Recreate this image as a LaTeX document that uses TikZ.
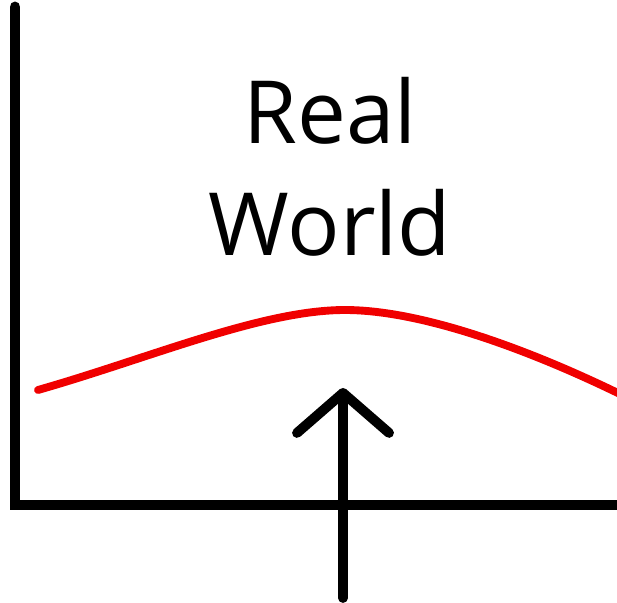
\documentclass[tikz,border=0pt]{standalone}
\usepackage{fontspec}
\setmainfont{Open Sans}
\usetikzlibrary{arrows.meta,positioning}
\definecolor{curveRed}{RGB}{240,0,0}
\definecolor{inkBlack}{RGB}{0,0,0}

\begin{document}
\begin{tikzpicture}[x=0.025cm,y=-0.025cm,
  axisline/.style={draw=inkBlack,line width=7.8pt,line cap=round,line join=miter},
  bellcurve/.style={draw=curveRed,line width=5.6pt,line cap=round},
  pointer/.style={draw=inkBlack,line width=7pt,line cap=round,
    -{Straight Barb[length=1.0cm,width=2.3cm,round]}},
  labeltext/.style={font=\fontsize{62}{80}\selectfont,align=center,inner sep=0pt}]
\useasboundingbox (0,0) rectangle (617,603);
% axes
\coordinate (ytop) at (15,7);
\coordinate (origin) at (15,505);
\coordinate (xend) at (640,505);
\draw[axisline] (ytop) -- (origin) -- (xend);
% curve
\coordinate (curveleft) at (38,390);
\coordinate (curvetop) at (345,310);
\coordinate (curveright) at (622,395);
\draw[bellcurve] (curveleft) .. controls (150,358) and (262,310) .. (curvetop)
  .. controls (422,310) and (530,350) .. (curveright);
% label
\node[labeltext] (realworld) at (330,167) {Real\\World};
% arrow
\coordinate (arrowfoot) at (343,598);
\coordinate (arrowtip) at (343,388);
\draw[pointer] (arrowfoot) -- (arrowtip);
\end{tikzpicture}
\end{document}
